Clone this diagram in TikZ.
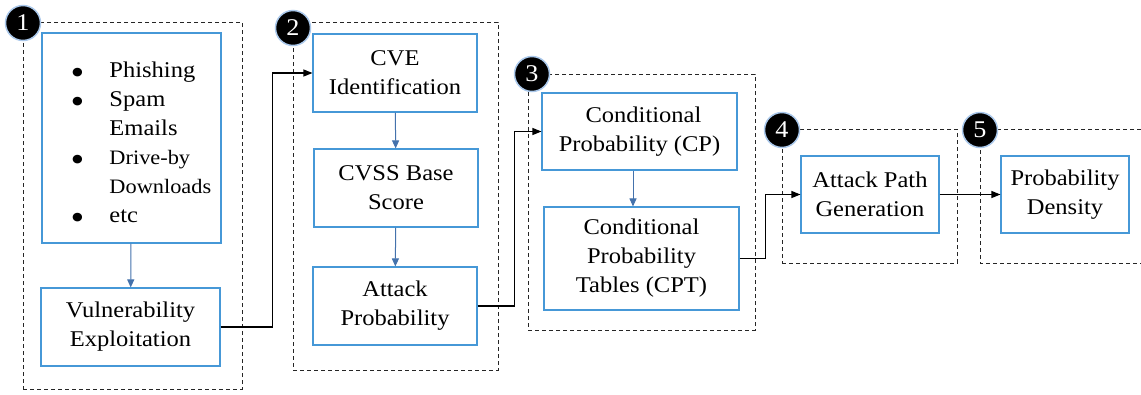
\documentclass[tikz,border=0pt]{standalone}
\usepackage{fontspec}
\setmainfont{Liberation Serif}[FakeStretch=1.09]
\usetikzlibrary{arrows.meta}
\definecolor{boxblue}{RGB}{70,152,215}
\definecolor{arrblue}{RGB}{68,114,172}
\definecolor{glow}{RGB}{170,200,235}
\newcommand{\bigbul}{\hspace{2pt}\smash{\raisebox{-7pt}{\scalebox{1.6}{\textbullet}}}}
\tikzset{
  blk/.style={draw=boxblue, line width=1.1pt, fill=white, align=center, inner sep=0pt,
    font=\fontsize{22.5}{29}\selectfont},
  grp/.style={draw=black!85, dashed, dash pattern=on 4pt off 3pt, line width=1pt, inner sep=0pt},
  num/.style={circle, fill=black, draw=glow, line width=1.5pt, minimum size=35pt, inner sep=0pt,
    text=white, font=\fontsize{24}{24}\selectfont},
  barr/.style={draw=arrblue, line width=1pt, -{Triangle[length=8pt,width=7pt]}},
  karr/.style={draw=black, line width=1.1pt, -{Triangle[length=9pt,width=7pt]}},
}
\begin{document}
\begin{tikzpicture}[x=1pt,y=-1pt]
\useasboundingbox (0,0) rectangle (1141,394);
% groups
\node[grp, minimum width=219pt, minimum height=367pt] (g1) at (132.5,205.5) {};
\node[grp, minimum width=205pt, minimum height=348pt] (g2) at (395.5,196) {};
\node[grp, minimum width=227pt, minimum height=256pt] (g3) at (641.5,202) {};
\node[grp, minimum width=175pt, minimum height=134pt] (g4) at (869.5,196) {};
\coordinate (g5a) at (1141,129);
\coordinate (g5b) at (980,129);
\coordinate (g5c) at (980,263);
\coordinate (g5d) at (1141,263);
\draw[grp] (g5a) -- (g5b) -- (g5c) -- (g5d);
% boxes
\node[blk, minimum width=179pt, minimum height=210pt] (bul) at (131.5,138) {%
  \raisebox{-6pt}[\height][\depth]{\begin{tabular}{@{\hspace{17pt}}l@{\hspace{25pt}}l@{}}
  \bigbul & Phishing\\
  \bigbul & Spam\\
  & Emails\\
  \bigbul & {\fontsize{20.5}{29}\selectfont Drive-by}\\
  & {\fontsize{20.5}{29}\selectfont Downloads}\\
  \bigbul & etc
  \end{tabular}}};
\node[blk, minimum width=179pt, minimum height=78pt] (vuln) at (130.5,327) {Vulnerability\\Exploitation};
\node[blk, minimum width=164pt, minimum height=78pt] (cve) at (395,73) {CVE\\Identification};
\node[blk, minimum width=164pt, minimum height=78pt] (cvss) at (396,188) {CVSS Base\\Score};
\node[blk, minimum width=164pt, minimum height=78pt] (ap) at (395,306) {Attack\\Probability};
\node[blk, minimum width=195pt, minimum height=77pt] (cp) at (639.5,131.5) {\hspace{8pt}Conditional\\Probability (CP)};
\node[blk, minimum width=195pt, minimum height=103pt] (cpt) at (641.5,258.5) {Conditional\\Probability\\Tables (CPT)};
\node[blk, minimum width=138pt, minimum height=77pt] (apg) at (870,194.5) {Attack Path\\Generation};
\node[blk, minimum width=128pt, minimum height=77pt] (pd) at (1065,194.5) {Probability\\Density};
% numbers
\node[num] (n1) at (23,23) {1};
\node[num] (n2) at (293,28) {2};
\node[num] (n3) at (532,74) {3};
\node[num] (n4) at (782,130) {4};
\node[num] (n5) at (980,130) {5};
% arrows
\draw[barr] (bul) -- (vuln);
\draw[barr] (cve) -- (cvss);
\draw[barr] (cvss) -- (ap);
\draw[barr] (cp.south -| 633,0) -- (cpt.north -| 633,0);
\draw[karr] (vuln.east) -- ++(52,0) |- (cve.west);
\draw[karr] (ap.east) -- ++(37,0) |- (cp.west);
\draw[karr] (cpt.east) -- ++(26,0) |- (apg.west);
\draw[karr] (apg) -- (pd);
\end{tikzpicture}
\end{document}
